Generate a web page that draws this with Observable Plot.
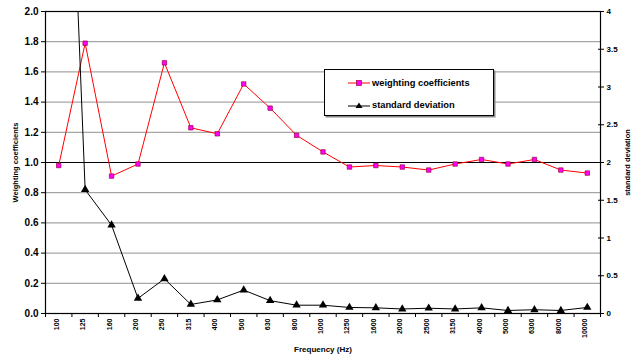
<!DOCTYPE html>
<html>
<head>
<meta charset="utf-8">
<script src="https://cdn.jsdelivr.net/npm/d3@7"></script>
<script src="https://cdn.jsdelivr.net/npm/@observablehq/plot@0.6"></script>
<style>
  body { margin: 0; background: white; }
  #wrap { position: relative; width: 636px; height: 356px; font-family: "Liberation Sans", Arial, sans-serif; }
  #legend { position: absolute; left: 324px; top: 69px; width: 168px; height: 45px; border: 1px solid #000; background: #fff; box-shadow: 1.5px 1.5px 0 #888; }
  .item { position: absolute; left: 23px; height: 12px; display: flex; align-items: center; font-size: 9.3px; font-weight: bold; color: #000; }
  .item svg { margin-right: 2px; }
</style>
</head>
<body>
<div id="wrap"></div>
<script>
const freqs = ["100","125","160","200","250","315","400","500","630","800","1000","1250","1600","2000","2500","3150","4000","5000","6300","8000","10000"];
const weights = [0.98,1.79,0.91,0.99,1.66,1.23,1.19,1.52,1.36,1.18,1.07,0.97,0.98,0.97,0.95,0.99,1.02,0.99,1.02,0.95,0.93];
const stdDev = [10.4,1.64,1.17,0.2,0.46,0.12,0.18,0.31,0.17,0.11,0.11,0.08,0.075,0.06,0.07,0.06,0.075,0.04,0.05,0.04,0.08];
const leftTicks = [0,0.2,0.4,0.6,0.8,1.0,1.2,1.4,1.6,1.8,2.0];
const rightTicks = [0,0.5,1,1.5,2,2.5,3,3.5,4];
const seriesNames = ["weighting coefficients","standard deviation"];
const xTitle = "Frequency (Hz)";
const yTitle = "Weighting coefficients";
const y2Title = "standard deviation";

const idx = (d, i) => i;
const bounds = d3.range(freqs.length + 1).map(i => i - 0.5);
const bold = {fontWeight: "bold"};

const chart = Plot.plot({
  width: 636, height: 356,
  marginLeft: 45, marginRight: 36, marginTop: 11, marginBottom: 43,
  x: {domain: [-0.5, freqs.length - 0.5], axis: null},
  y: {domain: [0, 2], axis: null},
  style: {fontFamily: "'Liberation Sans', Arial, sans-serif", background: "white", color: "black"},
  marks: [
    Plot.ruleY(leftTicks, {stroke: "#909090", strokeWidth: 1}),
    Plot.ruleY([1], {stroke: "black", strokeWidth: 1.2}),
    Plot.frame({stroke: "black", strokeWidth: 1.2}),
    Plot.axisY(leftTicks, {anchor: "left", tickSize: 4, tickPadding: 3, tickFormat: d3.format(".1f"), fontSize: 10, ...bold, label: null}),
    Plot.axisY(rightTicks.map(v => v / 2), {anchor: "right", tickSize: 6, dx: -3, tickFormat: () => "", label: null}),
    Plot.axisY(rightTicks.map(v => v / 2), {anchor: "right", tickSize: 0, tickPadding: 6, tickFormat: d => d3.format("~g")(d * 2), fontSize: 8, ...bold, label: null}),
    Plot.axisX(bounds, {anchor: "bottom", tickSize: 4, tickFormat: () => "", label: null}),
    Plot.text(freqs, {x: idx, frameAnchor: "bottom", rotate: -90, textAnchor: "end", dy: 5, fontSize: 7, ...bold}),
    Plot.text([xTitle], {frameAnchor: "bottom", dy: 36, lineAnchor: "middle", textAnchor: "middle", fontSize: 8, ...bold}),
    Plot.text([yTitle], {frameAnchor: "left", dx: -30, rotate: -90, textAnchor: "middle", lineAnchor: "middle", fontSize: 7.5, ...bold}),
    Plot.text([y2Title], {frameAnchor: "right", dx: 27, rotate: -90, textAnchor: "middle", lineAnchor: "middle", fontSize: 7.5, ...bold}),
    Plot.lineY(weights, {x: idx, y: d => d, stroke: "#ff0000", strokeWidth: 1}),
    Plot.dot(weights, {x: idx, y: d => d, symbol: "square", r: 2.5, fill: "#ff00ff", stroke: "#a0003a", strokeWidth: 0.7}),
    Plot.lineY(stdDev, {x: idx, y: d => d / 2, stroke: "black", strokeWidth: 1, clip: true}),
    Plot.dot(stdDev, {x: idx, y: d => d / 2, symbol: "triangle", r: 3.1, fill: "black", clip: true})
  ]
});

const wrap = document.getElementById("wrap");
wrap.appendChild(chart);

const legend = document.createElement("div");
legend.id = "legend";
const markers = [
  `<svg width="22" height="8"><line x1="0" y1="4" x2="22" y2="4" stroke="#ff0000" stroke-width="1"/><rect x="8.5" y="1.5" width="5" height="5" fill="#ff00ff" stroke="#a0003a" stroke-width="0.7"/></svg>`,
  `<svg width="22" height="8"><line x1="0" y1="5" x2="22" y2="5" stroke="#000" stroke-width="1"/><path d="M11,1.5 L14.5,7 L7.5,7 Z" fill="#000"/></svg>`
];
seriesNames.forEach((name, i) => {
  const it = document.createElement("div");
  it.className = "item";
  it.style.top = (i === 0 ? 7 : 29) + "px";
  it.innerHTML = markers[i] + `<span>${name}</span>`;
  legend.appendChild(it);
});
wrap.appendChild(legend);
</script>
</body>
</html>
